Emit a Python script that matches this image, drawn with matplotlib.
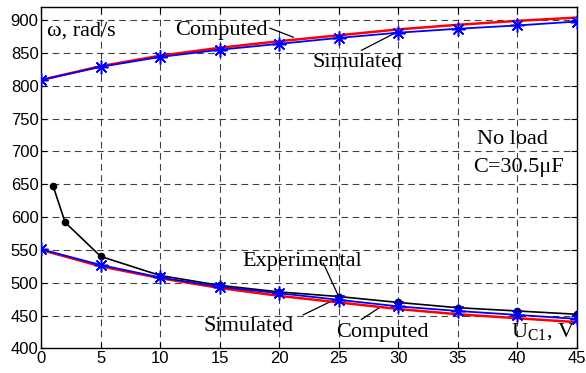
"""Rotor speed versus capacitor voltage U_C1, no-load case with C = 30.5 uF."""

import matplotlib

matplotlib.use("Agg")

import matplotlib.pyplot as plt  # noqa: E402

# upper branch
u_upper = [0, 5, 10, 15, 20, 25, 30, 35, 40, 45]
w_upper_computed = [809, 830, 846, 858, 868, 877, 886, 893, 899, 904]
w_upper_simulated = [809, 829, 844, 855, 864, 873, 881, 887, 892, 898]

# lower branch
u_lower = [0, 5, 10, 15, 20, 25, 30, 35, 40, 45]
w_lower_computed = [550, 525, 507, 492, 480, 470, 460, 452, 446, 440]
w_lower_simulated = [551, 527, 508, 494, 484, 474, 464, 457, 451, 445]

# bench measurements
u_exp = [1, 2, 5, 10, 15, 20, 25, 30, 35, 40, 45]
w_exp = [647, 592, 540, 511, 496, 486, 479, 470, 462, 457, 452]

x_ticks = list(range(0, 50, 5))
y_ticks = list(range(400, 950, 50))

SERIF = "Liberation Serif"
plt.rcParams["font.family"] = ["Liberation Sans", "DejaVu Sans"]

fig = plt.figure(figsize=(5.86, 3.73), dpi=100)
ax = fig.add_axes([0.0705, 0.066, 0.9135, 0.915])

grid_kw = dict(color="black", linestyle=(0, (6, 4)), linewidth=0.8, alpha=0.75, zorder=0)
for x in x_ticks[1:-1]:
    ax.axvline(x, **grid_kw)
for y in y_ticks[1:]:
    ax.axhline(y, **grid_kw)

ax.plot(u_exp, w_exp, color="black", linewidth=1.2, marker="o", markersize=4.5, zorder=3)
for uu, comp, sim in [(u_upper, w_upper_computed, w_upper_simulated),
                      (u_lower, w_lower_computed, w_lower_simulated)]:
    ax.plot(uu, comp, color="red", linewidth=1.8, zorder=4)
    ax.plot(uu, sim, color="blue", linewidth=1.3, marker=(8, 2, 0), markersize=10,
            markeredgewidth=1.1, zorder=5)

ax.set_xlim(0, 45)
ax.set_ylim(400, 920)
ax.set_xticks(x_ticks)
ax.set_yticks(y_ticks)
ax.tick_params(direction="in", top=True, right=True, length=4, labelsize=12, pad=2)
for spine in ax.spines.values():
    spine.set_linewidth(1.0)

txt = dict(fontfamily=SERIF, fontsize=16, color="black", ha="center", va="center")
line_kw = dict(arrowstyle="-", color="black", linewidth=0.9, shrinkA=0, shrinkB=0)


def leader(start, end):
    """Thin pointer line from a label to its curve."""
    ax.annotate("", xy=end, xytext=start, arrowprops=line_kw)


ax.text(0.5, 883, "\u03c9, rad/s", fontfamily=SERIF, fontsize=16, ha="left", va="center")

ax.text(15.1, 885, "Computed", **txt)
leader((19.2, 888), (21.2, 874))
ax.text(26.6, 835, "Simulated", **txt)
leader((26.9, 854), (29.9, 882))

ax.text(39.6, 719, "No load", **txt)
ax.text(40.1, 676, "C=30.5\u03bcF", **txt)

ax.text(21.9, 533, "Experimental", **txt)
leader((23.7, 530), (25.0, 479))
ax.text(17.4, 433, "Simulated", **txt)
leader((22.0, 451), (24.85, 476))
ax.text(28.7, 424, "Computed", **txt)
leader((26.9, 444), (28.5, 463))

ax.text(44.9, 424, r"U$_{\mathregular{C1}}$, V", fontfamily=SERIF, fontsize=16,
        ha="right", va="center")

fig.savefig("out.png", dpi=100)
plt.close(fig)
